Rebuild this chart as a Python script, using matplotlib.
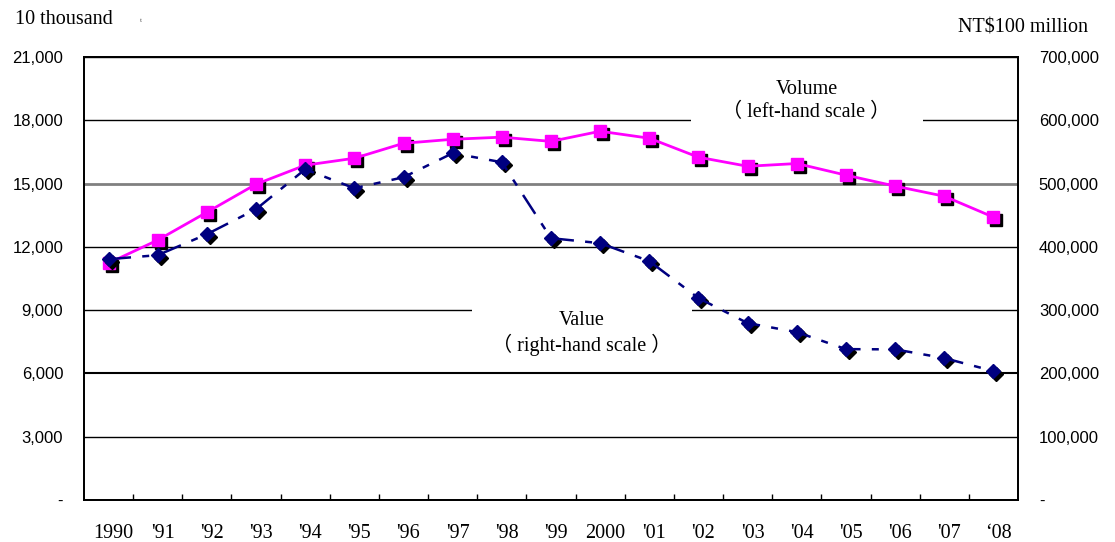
import numpy as np
import matplotlib
matplotlib.use("Agg")
import matplotlib.pyplot as plt
from matplotlib import patches
from matplotlib.ticker import FixedLocator, FuncFormatter
from matplotlib.transforms import offset_copy, ScaledTranslation

#%% data
years = ["1990", "'91", "'92", "'93", "'94", "'95", "'96", "'97", "'98", "'99",
         "2000", "'01", "'02", "'03", "'04", "'05", "'06", "'07", "\u201808"]
# volume, 10 thousand (left-hand scale)
volume = [11230, 12320, 13640, 14970, 15870, 16200, 16910, 17100, 17200, 17000,
          17480, 17150, 16250, 15820, 15950, 15400, 14880, 14400, 13410]
# value, NT$100 million (right-hand scale)
value = [380500, 386900, 420000, 459500, 522600, 492600, 510000, 548000, 533700, 413700,
         405800, 377400, 319000, 279500, 265300, 238400, 238000, 224200, 203700]

left_ticks = np.arange(0, 21001, 3000)
right_ticks = np.arange(0, 700001, 100000)

serif = ["Liberation Serif", "DejaVu Serif"]
serif_cjk = ["Liberation Serif", "Noto Sans CJK TC", "DejaVu Sans"]
sans = ["Liberation Sans", "DejaVu Sans"]

def dash_fmt(v, pos):
    return "-" if v == 0 else f"{v:,.0f}"

fig = plt.figure(figsize=(11.15, 5.42), dpi=100)
ax = fig.add_axes([84/1115, 1-500/542, (1018-84)/1115, (500-57)/542])
ax2 = ax.twinx()

x = np.arange(len(years))
ax.set_xlim(-0.5, len(years)-0.5)
ax.set_ylim(0, 21000)
ax2.set_ylim(0, 700000)

# gridlines
ax.set_axisbelow(True)
ax.yaxis.set_major_locator(FixedLocator(left_ticks))
ax.grid(axis='y', color='black', lw=1)
for gl, t in zip(ax.get_ygridlines(), left_ticks):
    if t == 15000:
        gl.set_color('#808080')
        gl.set_linewidth(2)
    if t == 6000:
        gl.set_linewidth(1.5)

# white boxes behind the series labels (they cut the gridlines)
ax.add_patch(patches.Rectangle((11.84, 16900), 4.73, 3500, facecolor='white',
                               edgecolor='none', zorder=1))
ax.add_patch(patches.Rectangle((7.39, 6400), 4.48, 3700, facecolor='white',
                               edgecolor='none', zorder=1))

# volume series with shadow
sh = offset_copy(ax.transData, fig=fig, x=3, y=-3, units='dots')
ax.plot(x, volume, ls='none', marker='s', ms=8.5, color='black', transform=sh, zorder=3)
ax.plot(x, volume, color='#FF00FF', lw=2, marker='s', ms=8.5, mec='#FF00FF', zorder=4)

# value series with shadow
sh2 = offset_copy(ax2.transData, fig=fig, x=3, y=-3, units='dots')
ax2.plot(x, value, ls='none', marker='D', ms=7.5, color='black', transform=sh2, zorder=3)
ax2.plot(x, value, color='#000080', lw=1.8, ls=(0, (9, 4.5, 2.8, 4.5)),
         marker='D', ms=7.5, mec='#000080', zorder=4)

# axes styling
ax.set_xticks(x)
ax.set_xticklabels(years, fontsize=14.5, family=serif)
ax.xaxis.set_minor_locator(FixedLocator(np.arange(0.5, len(years)-1, 1)))
ax.tick_params(axis='x', which='major', length=0, pad=17)
ax.tick_params(axis='x', which='minor', direction='in', length=4, width=1, color='black')
for lab in ax.get_xticklabels():
    lab.set_transform(lab.get_transform() + ScaledTranslation(5/100, 0, fig.dpi_scale_trans))

ax.yaxis.set_major_formatter(FuncFormatter(dash_fmt))
ax.tick_params(axis='y', length=0, pad=15, labelsize=12)
for lab in ax.get_yticklabels():
    lab.set_family(sans)

ax2.yaxis.set_major_locator(FixedLocator(right_ticks))
ax2.yaxis.set_major_formatter(FuncFormatter(dash_fmt))
ax2.tick_params(axis='y', length=0, pad=15, labelsize=12)
for lab in ax2.get_yticklabels():
    lab.set_family(sans)

for a in (ax, ax2):
    for s in a.spines.values():
        s.set_color('black')
        s.set_linewidth(1.3)

# series labels
ax.text(14.2, 18900, "Volume\n\uff08 left-hand scale \uff09", ha='center', va='center',
        fontsize=14.5, family=serif_cjk, linespacing=1.25, zorder=2)
ax.text(9.63, 7890, "Value\n\uff08 right-hand scale \uff09", ha='center', va='center',
        fontsize=14.5, family=serif_cjk, linespacing=1.25, zorder=2)

# unit labels
fig.text(15/1115, 1-20/542, "10 thousand", ha='left', va='center', fontsize=14.5, family=serif)
fig.text(140/1115, 1-21/542, "t", ha='left', va='center', fontsize=5, color='#555555', family=serif)
fig.text(1088/1115, 1-28/542, "NT$100 million", ha='right', va='center', fontsize=14.5, family=serif)

fig.savefig("out.png", dpi=100)
